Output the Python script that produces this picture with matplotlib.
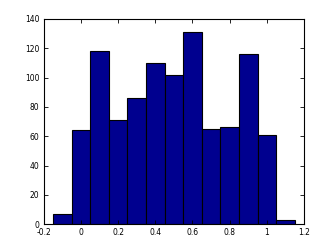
import numpy as np
import matplotlib
matplotlib.use('Agg')
import matplotlib.pyplot as plt

# bin centres and counts
centres = [-0.1, 0.0, 0.1, 0.2, 0.3, 0.4, 0.5, 0.6, 0.7, 0.8, 0.9, 1.0, 1.1]
counts = [7, 64, 118, 71, 86, 110, 102, 131, 65, 66, 116, 61, 3]
xticks = [-0.2, 0, 0.2, 0.4, 0.6, 0.8, 1, 1.2]
xtick_labels = ['-0.2', '0', '0.2', '0.4', '0.6', '0.8', '1', '1.2']
yticks = [0, 20, 40, 60, 80, 100, 120, 140]

fig = plt.figure(figsize=(3.36, 2.52), dpi=100)
ax = fig.add_axes([0.13, 0.11, 0.775, 0.815])
ax.bar(centres, counts, width=0.1, color='#00008F', edgecolor='black', linewidth=0.8)
ax.set_xlim(-0.2, 1.2)
ax.set_ylim(0, 140)
ax.set_xticks(xticks)
ax.set_xticklabels(xtick_labels)
ax.set_yticks(yticks)
ax.tick_params(direction='in', top=True, right=True, labelsize=5.5, length=3, width=0.6, pad=3)
for s in ax.spines.values():
    s.set_linewidth(0.8)
fig.savefig('out.png', dpi=100)
